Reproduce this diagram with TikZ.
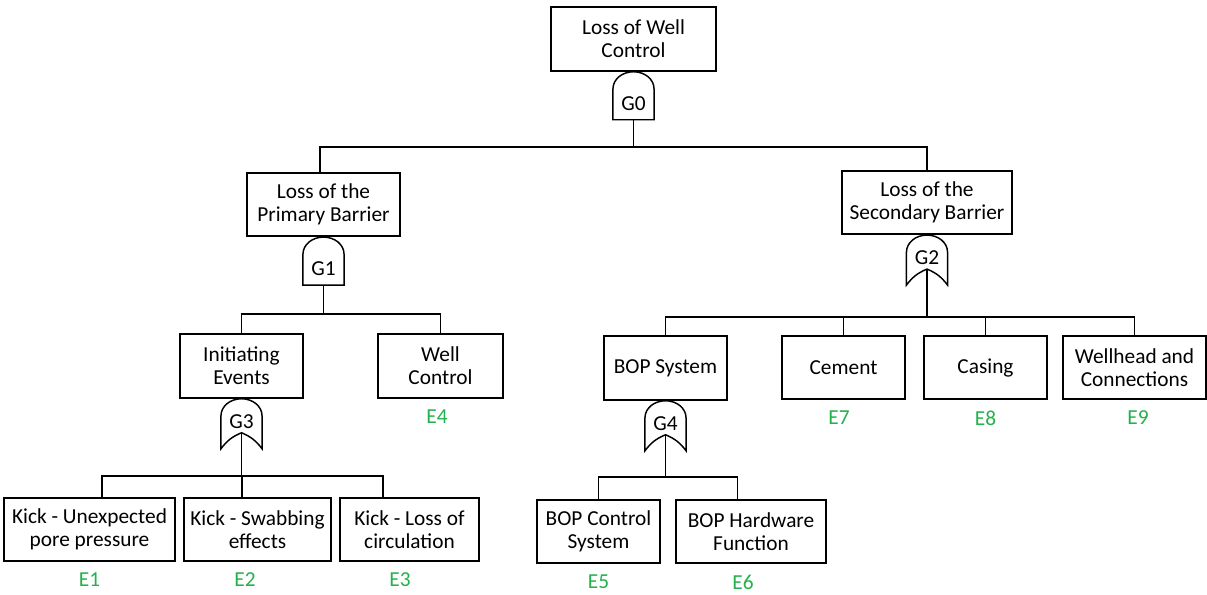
\documentclass[tikz,border=0pt]{standalone}
\usepackage{fontspec}
\setmainfont{Carlito}
\usetikzlibrary{positioning}

\definecolor{evgreen}{RGB}{34,177,76}

\tikzset{
    evbox/.style={draw, rectangle, line width=1.3pt, fill=white, align=center, anchor=90, minimum height=47.5pt, inner sep=1pt},
    gateline/.style={line width=1.1pt, fill=white},
    gatetext/.style={inner sep=0pt},
    conn/.style={line width=1.2pt},
    elabel/.style={text=evgreen, inner sep=0pt},
}

% gates: #1 name, #2 event above, #3 label
\newcommand{\andgate}[3]{%
    \draw[gateline] ([xshift=-15.4pt,yshift=-36pt]#2.south) -- ([xshift=-15.4pt,yshift=-12.75pt]#2.south)
        arc[start angle=180, end angle=0, x radius=15.4pt, y radius=12.75pt]
        -- ([xshift=15.4pt,yshift=-36pt]#2.south) -- cycle;
    \node[gatetext] (#1) at ([yshift=-24pt]#2.south) {#3};
    \coordinate (#1-out) at ([yshift=-36pt]#2.south);
}
\newcommand{\orgate}[3]{%
    \draw[gateline] ([xshift=-15.4pt,yshift=-37.5pt]#2.south) -- ([xshift=-15.4pt,yshift=-12.75pt]#2.south)
        arc[start angle=180, end angle=0, x radius=15.4pt, y radius=12.75pt]
        -- ([xshift=15.4pt,yshift=-37.5pt]#2.south) to[bend right=15] ([yshift=-25.5pt]#2.south)
        to[bend right=15] ([xshift=-15.4pt,yshift=-37.5pt]#2.south) -- cycle;
    \node[gatetext] (#1) at ([yshift=-17.25pt]#2.south) {#3};
    \coordinate (#1-out) at ([yshift=-25.5pt]#2.south);
}

\begin{document}
\begin{tikzpicture}[x=0.75pt, y=-0.75pt, font=\fontsize{16}{17}\selectfont]
    \useasboundingbox (0,0) rectangle (1207,594);

    \draw
    %% top event and barriers
    (633.5,6)node[evbox, minimum width=123.75pt, minimum height=48pt](lwc){Loss of Well\\Control}
    (323.5,172)node[evbox, minimum width=114.75pt](lpb){Loss of the\\Primary Barrier}
    (927,170)node[evbox, minimum width=127.5pt](lsb){Loss of the\\Secondary Barrier}

    %% second level
    (241.5,333)node[evbox, minimum width=92.25pt, minimum height=48pt](ie){Initiating\\Events}
    (440.5,333)node[evbox, minimum width=93.75pt, minimum height=48pt](wc){Well\\Control}
    (665.5,335)node[evbox, minimum width=92.25pt, minimum height=48pt](bop){BOP System}
    (843.5,335)node[evbox, minimum width=92.25pt](cem){Cement}
    (985.5,335)node[evbox, minimum width=92.25pt](cas){Casing}
    (1134.5,335)node[evbox, minimum width=107.25pt](wh){Wellhead and\\Connections}

    %% basic events
    (89.5,497)node[evbox, minimum width=128.25pt](k1){Kick - Unexpected\\pore pressure}
    (257.5,497)node[evbox, minimum width=110.25pt](k2){Kick - Swabbing\\effects}
    (409.5,497)node[evbox, minimum width=104.25pt](k3){Kick - Loss of\\circulation}
    (598.5,499)node[evbox, minimum width=92.25pt](bcs){BOP Control\\System}
    (751,499)node[evbox, minimum width=112.5pt](bhw){BOP Hardware\\Function}
    ;

    \andgate{g0}{lwc}{G0}
    \andgate{g1}{lpb}{G1}
    \orgate{g2}{lsb}{G2}
    \orgate{g3}{ie}{G3}
    \orgate{g4}{bop}{G4}

    % connectors
    \draw[conn] (g0-out) -- ++(0,27) -| ([xshift=-2.6pt]lpb.north);
    \draw[conn] (g0-out) ++(0,27) -| (lsb.north);
    \draw[conn] (g1-out) -- ++(0,29) -| (ie.north);
    \draw[conn] (g1-out) ++(0,29) -| (wc.north);
    \draw[conn] (g2-out) -- ++(0,48) -| (bop.north);
    \draw[conn] (g2-out) ++(0,48) -| (cem.north);
    \draw[conn] (g2-out) ++(0,48) -| (cas.north);
    \draw[conn] (g2-out) ++(0,48) -| (wh.north);
    \draw[conn] (g3-out) -- ++(0,43) -| ([xshift=9.4pt]k1.north);
    \draw[conn] (g3-out) ++(0,43) -| ([xshift=-11.6pt]k2.north);
    \draw[conn] (g3-out) ++(0,43) -| ([xshift=-19.9pt]k3.north);
    \draw[conn] (g4-out) -- ++(0,42) -| (bcs.north);
    \draw[conn] (g4-out) ++(0,42) -| ([xshift=-10pt]bhw.north);

    % event ids
    \node[elabel, below=8pt of k1] (e1) {E1};
    \node[elabel, below=8pt of k2, xshift=-9.4pt] (e2) {E2};
    \node[elabel, below=8pt of k3, xshift=-7.1pt] (e3) {E3};
    \node[elabel, below=8pt of wc, xshift=-2.6pt] (e4) {E4};
    \node[elabel, below=8pt of bcs] (e5) {E5};
    \node[elabel, below=8pt of bhw, xshift=-6pt] (e6) {E6};
    \node[elabel, below=8pt of cem, xshift=-3.4pt] (e7) {E7};
    \node[elabel, below=8pt of cas] (e8) {E8};
    \node[elabel, below=8pt of wh, xshift=2.6pt] (e9) {E9};
\end{tikzpicture}
\end{document}
